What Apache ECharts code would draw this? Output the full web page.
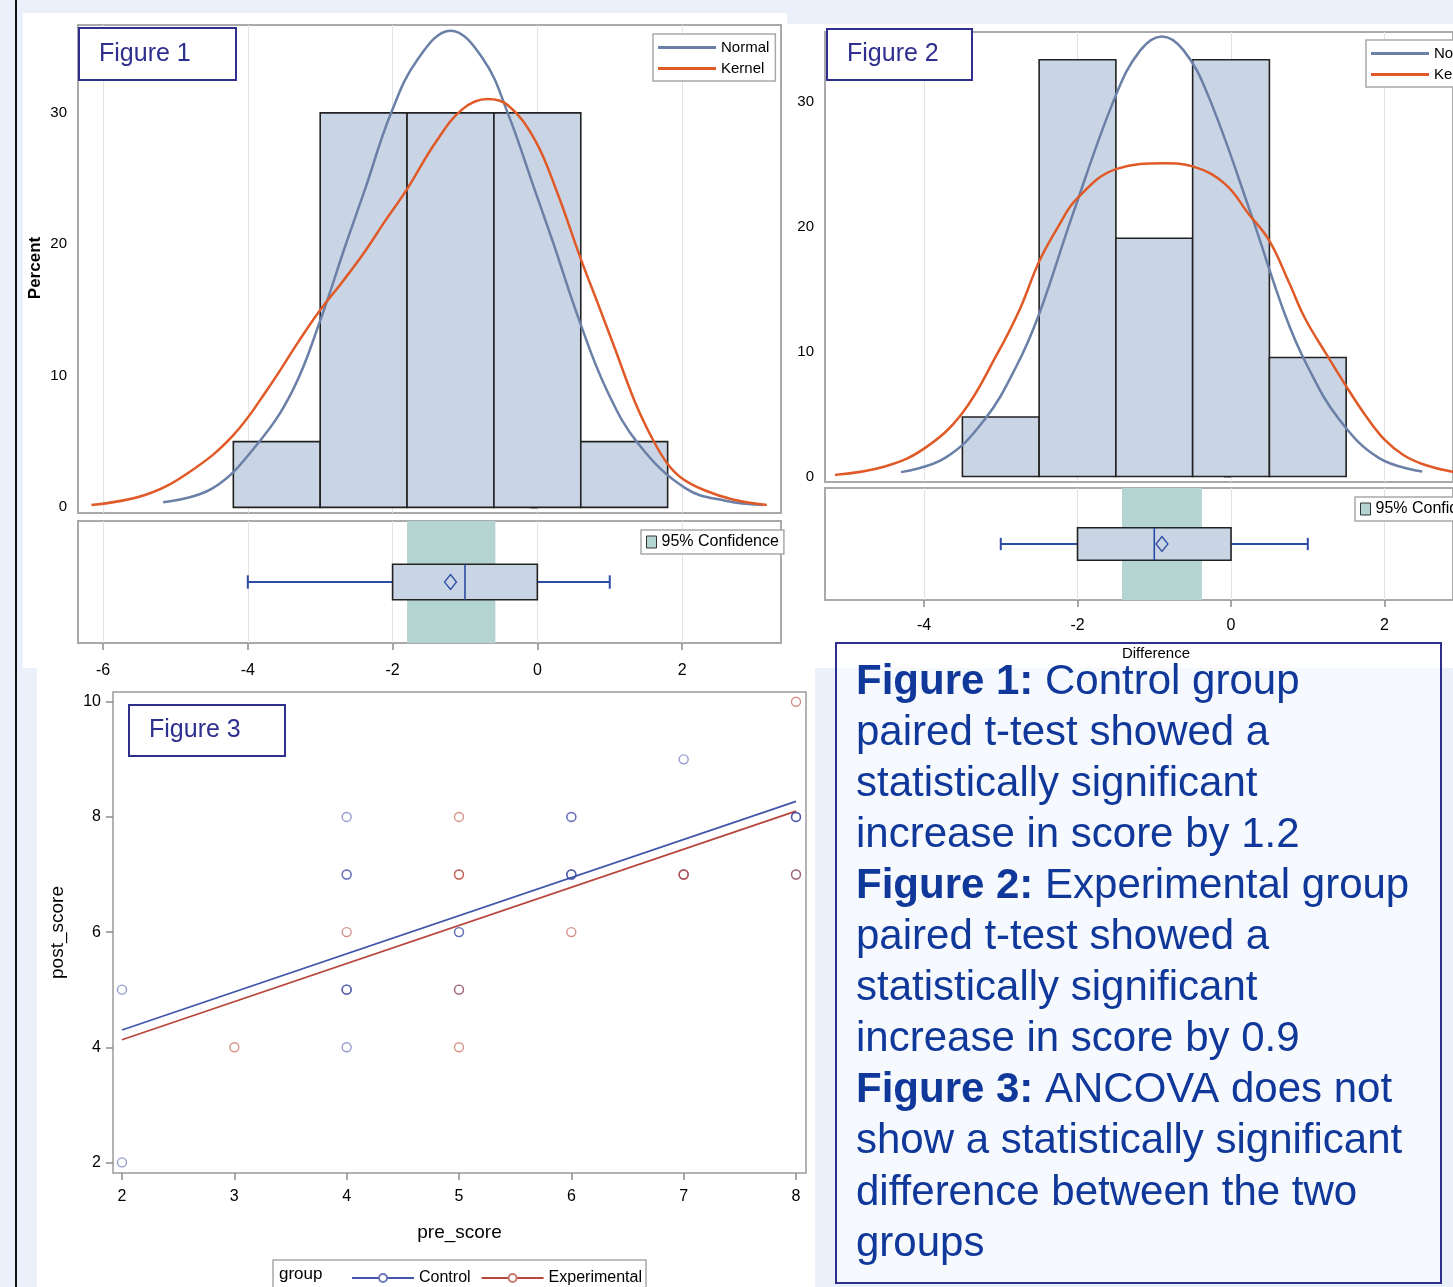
<!DOCTYPE html>
<html>
<head>
<meta charset="utf-8">
<script src="https://cdn.jsdelivr.net/npm/echarts@6/dist/echarts.min.js"></script>
<style>
  html, body { margin: 0; padding: 0; background: #eaf1fa; }
  #chart { width: 1453px; height: 1287px; }
</style>
</head>
<body>
<div id="chart"></div>
<script>
// ---- Figure 1: control group, paired differences ----
const fig1BinEdges = [-4.2, -3.0, -1.8, -0.6, 0.6, 1.8]
const fig1Percent = [5, 30, 30, 30, 5]
const fig1Normal = [[-5.17, 0.38], [-4.49, 1.44], [-3.87, 4.8], [-3.38, 8.9], [-3.0, 14.2], [-2.64, 20.1], [-2.38, 24.2], [-2.02, 30.0], [-1.65, 34.1], [-1.2, 36.25], [-0.75, 34.1], [-0.41, 30.0], [-0.04, 24.2], [0.22, 20.1], [0.58, 14.2], [0.96, 8.9], [1.4, 4.8], [2.05, 1.44], [2.6, 0.5], [3.11, 0.18]]
const fig1Kernel = [[-6.16, 0.18], [-5.42, 0.94], [-4.8, 2.71], [-4.2, 5.49], [-3.69, 9.29], [-3.3, 12.6], [-3.0, 15.0], [-2.7, 17.1], [-2.39, 19.4], [-2.1, 21.8], [-1.8, 24.2], [-1.4, 27.8], [-1.03, 30.3], [-0.69, 31.06], [-0.41, 30.6], [-0.04, 28.0], [0.27, 24.0], [0.6, 18.9], [0.85, 15.3], [1.07, 12.1], [1.35, 8.0], [1.6, 5.1], [1.8, 3.3], [2.0, 2.2], [2.31, 1.3], [2.7, 0.6], [3.17, 0.18]]
const fig1Box = [-4, -2, -1, 0, 1, -1.2] // min, q1, median, q3, max, mean
const fig1CI = [-1.8, -0.58]
const fig1Ticks = [-6, -4, -2, 0, 2]

// ---- Figure 2: experimental group ----
const fig2BinEdges = [-3.5, -2.5, -1.5, -0.5, 0.5, 1.5]
const fig2Percent = [4.76, 33.33, 19.05, 33.33, 9.52]
const fig2Normal = [[-4.3, 0.35], [-3.73, 1.47], [-3.21, 4.55], [-2.79, 8.9], [-2.5, 13.0], [-2.06, 21.0], [-1.5, 30.5], [-1.18, 34.1], [-0.9, 35.2], [-0.62, 34.1], [-0.3, 30.5], [0.26, 21.0], [0.7, 13.0], [0.99, 8.9], [1.41, 4.55], [1.93, 1.47], [2.49, 0.4]]
const fig2Kernel = [[-5.16, 0.13], [-4.51, 0.8], [-3.99, 2.27], [-3.5, 5.08], [-3.05, 9.76], [-2.75, 13.4], [-2.5, 17.2], [-2.25, 20.0], [-2.01, 22.2], [-1.49, 24.6], [-0.86, 25.05], [-0.5, 24.8], [-0.08, 23.4], [0.23, 21.0], [0.5, 18.85], [0.75, 15.6], [0.96, 12.7], [1.25, 9.7], [1.5, 7.22], [1.75, 4.9], [2.0, 2.94], [2.25, 1.7], [2.52, 0.94], [2.87, 0.4], [3.3, 0.14]]
const fig2Box = [-3, -2, -1, 0, 1, -0.9]
const fig2CI = [-1.42, -0.38]
const fig2Ticks = [-4, -2, 0, 2]
const pctTicks = [0, 10, 20, 30]

// ---- Figure 3: ANCOVA scatter ----
const controlPts = [[2, 5], [2, 2], [4, 8], [4, 7], [4, 7], [4, 5], [4, 5], [4, 5], [4, 4], [5, 6], [5, 6], [5, 5], [6, 8], [6, 8], [6, 7], [6, 7], [6, 7], [7, 9], [7, 7], [8, 8], [8, 8], [8, 8], [8, 7]]
const expPts = [[3, 4], [4, 6], [5, 8], [5, 7], [5, 7], [5, 5], [5, 4], [6, 6], [7, 7], [7, 7], [8, 10], [8, 7]]
const controlFit = [[2, 4.30], [8, 8.27]]
const expFit = [[2, 4.13], [8, 8.10]]
const preTicks = [2, 3, 4, 5, 6, 7, 8]
const postTicks = [2, 4, 6, 8, 10]

const textLines = [
  '{b|Figure 1:} Control group',
  'paired t-test showed a',
  'statistically significant',
  'increase in score by 1.2',
  '{b|Figure 2:} Experimental group',
  'paired t-test showed a',
  'statistically significant',
  'increase in score by 0.9',
  '{b|Figure 3:} ANCOVA does not',
  'show a statistically significant',
  'difference between the two',
  'groups',
]

const SANS = '\'Liberation Sans\', Arial, sans-serif'
const BAR_FILL = '#c9d5e5'
const NORMAL_C = '#6b80a7'
const KERNEL_C = '#e05a28'
const WHISKER = '#2c4ca3'
const CI_FILL = '#b3d4d1'
const FRAME = '#a9a9a9'
const NAVY = '#2e2f8e'
const TXT = '#10389a'

const chart = echarts.init(document.getElementById('chart'))

function histItem(params, api) {
  const a = api.coord([api.value(0), 0])
  const b = api.coord([api.value(1), api.value(2)])
  return {
    type: 'rect',
    shape: { x: a[0], y: b[1], width: b[0] - a[0], height: a[1] - b[1] },
    style: { fill: BAR_FILL, stroke: '#222', lineWidth: 1.6 },
  }
}

function bandItem(params, api) {
  const a = api.coord([api.value(0), 1])
  const b = api.coord([api.value(1), 0])
  return {
    type: 'rect',
    shape: { x: a[0], y: a[1], width: b[0] - a[0], height: b[1] - a[1] },
    style: { fill: CI_FILL },
  }
}

function boxItem(params, api) {
  const p = [0, 1, 2, 3, 4, 5].map(i => api.coord([api.value(i), 0.5]))
  const half = api.size([0, 0.29])[1] / 2
  const cap = api.size([0, 0.11])[1] / 2
  const cy = p[0][1]
  const ln = (x1, y1, x2, y2, w) => ({ type: 'line', shape: { x1, y1, x2, y2 }, style: { stroke: WHISKER, lineWidth: w } })
  return {
    type: 'group',
    children: [
      ln(p[0][0], cy, p[1][0], cy, 2),
      ln(p[3][0], cy, p[4][0], cy, 2),
      ln(p[0][0], cy - cap, p[0][0], cy + cap, 2),
      ln(p[4][0], cy - cap, p[4][0], cy + cap, 2),
      { type: 'rect', shape: { x: p[1][0], y: cy - half, width: p[3][0] - p[1][0], height: 2 * half }, style: { fill: BAR_FILL, stroke: '#222', lineWidth: 1.6 } },
      ln(p[2][0], cy - half, p[2][0], cy + half, 1.6),
      { type: 'polygon', shape: { points: [[p[5][0], cy - 7.5], [p[5][0] + 6, cy], [p[5][0], cy + 7.5], [p[5][0] - 6, cy]] }, style: { fill: 'none', stroke: WHISKER, lineWidth: 1.3 } },
    ],
  }
}

function bins(edges, vals) {
  return vals.map((v, i) => [edges[i], edges[i + 1], v])
}

const tickStyle = { lineStyle: { color: '#8c8c8c', width: 1.5 }, length: 7 }
const gridLine = { show: true, lineStyle: { color: '#e3e3e3', width: 1 } }

function histX(idx, min, max, ticks) {
  return { gridIndex: idx, type: 'value', min, max, axisLine: { show: false }, axisTick: { show: false, customValues: ticks }, axisLabel: { show: false, customValues: ticks }, splitLine: { ...gridLine, customValues: ticks } }
}
function boxX(idx, min, max, ticks, margin, name, namePad) {
  return {
    gridIndex: idx, type: 'value', min, max,
    axisLine: { show: false },
    axisTick: { ...tickStyle, customValues: ticks },
    axisLabel: { customValues: ticks, margin, color: '#000', fontFamily: SANS, fontSize: 16 },
    splitLine: { ...gridLine, customValues: ticks },
    name, nameLocation: 'middle', nameGap: 46,
    nameTextStyle: { color: '#000', fontFamily: SANS, fontSize: 15, padding: [0, 0, 0, namePad] },
  }
}
function pctY(idx, min, max) {
  return {
    gridIndex: idx, type: 'value', min, max,
    axisLine: { show: false },
    axisTick: { ...tickStyle, customValues: pctTicks },
    axisLabel: { customValues: pctTicks, margin: 11, color: '#000', fontFamily: SANS, fontSize: 15 },
    splitLine: { show: false },
  }
}

const frame = { show: true, borderColor: FRAME, borderWidth: 2, backgroundColor: 'transparent' }

const legendText = { color: '#000', fontFamily: SANS, fontSize: 15 }
const curveLegend = (left, top) => ({
  data: ['Normal', 'Kernel'], orient: 'vertical', left, top, itemGap: 6, icon: 'rect', itemWidth: 58, itemHeight: 3,
  padding: [6, 6, 5, 5], borderColor: FRAME, borderWidth: 1.5, backgroundColor: '#fff', selectedMode: false, textStyle: legendText,
})
const ciLegend = (left, top) => ({
  data: ['95% Confidence'], left, top, icon: 'rect', itemWidth: 10, itemHeight: 12,
  itemStyle: { borderColor: '#333', borderWidth: 1 },
  padding: [4, 5, 4, 5], borderColor: FRAME, borderWidth: 1.5, backgroundColor: '#fff', selectedMode: false,
  textStyle: { ...legendText, fontSize: 16 },
})

function figLabel(x, y, w, h, text) {
  return [
    { type: 'rect', z: 50, shape: { x, y, width: w, height: h }, style: { fill: '#fff', stroke: NAVY, lineWidth: 2 } },
    { type: 'text', z: 51, x: x + 20, y: y + h / 2, style: { text, fill: NAVY, font: '25px ' + SANS, verticalAlign: 'middle' } },
  ]
}

const graphics = [
  { type: 'rect', z: -10, shape: { x: 15, y: 0, width: 2, height: 1287 }, style: { fill: '#111' } },
  { type: 'rect', z: -10, shape: { x: 23, y: 13, width: 764, height: 655 }, style: { fill: '#fff' } },
  { type: 'rect', z: -10, shape: { x: 37, y: 668, width: 778, height: 619 }, style: { fill: '#fff' } },
  { type: 'rect', z: -9, shape: { x: 836, y: 643, width: 605, height: 640 }, style: { fill: '#f6f9fe' } },
  { type: 'rect', z: -8, shape: { x: 787, y: 24, width: 666, height: 644 }, style: { fill: '#fff' } },
  { type: 'rect', z: 40, shape: { x: 836, y: 643, width: 605, height: 640 }, style: { fill: 'none', stroke: NAVY, lineWidth: 2 } },
  { type: 'text', z: 10, x: 35, y: 268, rotation: Math.PI / 2, style: { text: 'Percent', fill: '#000', font: 'bold 17px ' + SANS, align: 'center', verticalAlign: 'middle' } },
  { type: 'rect', z: -5, shape: { x: 273, y: 1260, width: 373, height: 34 }, style: { fill: '#fff', stroke: FRAME, lineWidth: 1.5 } },
  { type: 'text', z: -4, x: 279, y: 1274, style: { text: 'group', fill: '#000', font: '17px ' + SANS, verticalAlign: 'middle' } },
  ...figLabel(79, 28, 157, 52, 'Figure 1'),
  ...figLabel(827, 29, 145, 51, 'Figure 2'),
  ...figLabel(129, 705, 156, 51, 'Figure 3'),
  ...textLines.map((t, i) => ({
    type: 'text', z: 45, x: 856, y: 682 + i * 51.1,
    style: {
      text: t, fill: TXT, font: '42px ' + SANS, verticalAlign: 'middle',
      rich: { b: { fontWeight: 'bold', fontSize: 42, fontFamily: SANS, fill: TXT } },
    },
  })),
]

const option = {
  backgroundColor: '#eaf1fa',
  animation: false,
  graphic: graphics,
  grid: [
    { left: 78, top: 25, width: 703, height: 488, ...frame },
    { left: 78, top: 521, width: 703, height: 122, ...frame },
    { left: 825, top: 32, width: 630, height: 450, ...frame },
    { left: 825, top: 488, width: 630, height: 112, ...frame },
    { left: 113, top: 692, width: 693, height: 481, show: true, borderColor: '#9a9a9a', borderWidth: 1.5 },
  ],
  xAxis: [
    histX(0, -6.346, 3.366, fig1Ticks),
    boxX(1, -6.346, 3.366, fig1Ticks, 20, '', 0),
    histX(2, -5.29, 2.892, fig2Ticks),
    boxX(3, -5.29, 2.892, fig2Ticks, 18, 'Difference', 34),
    {
      gridIndex: 4, type: 'value', min: 1.92, max: 8.089,
      axisLine: { show: false },
      axisTick: { ...tickStyle, customValues: preTicks },
      axisLabel: { customValues: preTicks, margin: 16, color: '#000', fontFamily: SANS, fontSize: 16 },
      splitLine: { show: false },
      name: 'pre_score', nameLocation: 'middle', nameGap: 50, nameTextStyle: { color: '#000', fontFamily: SANS, fontSize: 19 },
    },
  ],
  yAxis: [
    pctY(0, -0.43, 36.68),
    { gridIndex: 1, type: 'value', min: 0, max: 1, show: false },
    pctY(2, -0.44, 35.55),
    { gridIndex: 3, type: 'value', min: 0, max: 1, show: false },
    {
      gridIndex: 4, type: 'value', min: 1.816, max: 10.17,
      axisLine: { show: false },
      axisTick: { ...tickStyle, customValues: postTicks },
      axisLabel: { customValues: postTicks, margin: 12, color: '#000', fontFamily: SANS, fontSize: 16 },
      splitLine: { show: false },
      name: 'post_score', nameLocation: 'middle', nameGap: 46, nameTextStyle: { color: '#000', fontFamily: SANS, fontSize: 19 },
    },
  ],
  legend: [
    curveLegend(653, 34),
    ciLegend(641, 530),
    curveLegend(1366, 40),
    ciLegend(1355, 497),
    {
      data: ['Control', 'Experimental'], left: 346, top: 1265, itemWidth: 62, itemHeight: 10, itemGap: 10,
      selectedMode: false, textStyle: { color: '#000', fontFamily: SANS, fontSize: 16 },
    },
  ],
  series: [
    // fig 1
    { type: 'custom', xAxisIndex: 0, yAxisIndex: 0, z: 2, renderItem: histItem, encode: { x: [0, 1], y: 2 }, data: bins(fig1BinEdges, fig1Percent) },
    { type: 'line', name: 'Normal', xAxisIndex: 0, yAxisIndex: 0, z: 3, smooth: 0.4, symbol: 'none', lineStyle: { color: NORMAL_C, width: 2.5 }, itemStyle: { color: NORMAL_C }, data: fig1Normal },
    { type: 'line', name: 'Kernel', xAxisIndex: 0, yAxisIndex: 0, z: 3, smooth: 0.4, symbol: 'none', lineStyle: { color: KERNEL_C, width: 2.5 }, itemStyle: { color: KERNEL_C }, data: fig1Kernel },
    { type: 'custom', name: '95% Confidence', xAxisIndex: 1, yAxisIndex: 1, z: 1, renderItem: bandItem, itemStyle: { color: CI_FILL }, data: [fig1CI] },
    { type: 'custom', xAxisIndex: 1, yAxisIndex: 1, z: 3, renderItem: boxItem, data: [fig1Box] },
    // fig 2
    { type: 'custom', xAxisIndex: 2, yAxisIndex: 2, z: 2, renderItem: histItem, encode: { x: [0, 1], y: 2 }, data: bins(fig2BinEdges, fig2Percent) },
    { type: 'line', name: 'Normal', xAxisIndex: 2, yAxisIndex: 2, z: 3, smooth: 0.4, symbol: 'none', lineStyle: { color: NORMAL_C, width: 2.5 }, itemStyle: { color: NORMAL_C }, data: fig2Normal },
    { type: 'line', name: 'Kernel', xAxisIndex: 2, yAxisIndex: 2, z: 3, smooth: 0.4, symbol: 'none', lineStyle: { color: KERNEL_C, width: 2.5 }, itemStyle: { color: KERNEL_C }, data: fig2Kernel },
    { type: 'custom', name: '95% Confidence', xAxisIndex: 3, yAxisIndex: 3, z: 1, renderItem: bandItem, itemStyle: { color: CI_FILL }, data: [fig2CI] },
    { type: 'custom', xAxisIndex: 3, yAxisIndex: 3, z: 3, renderItem: boxItem, data: [fig2Box] },
    // fig 3
    { type: 'line', name: 'Control', xAxisIndex: 4, yAxisIndex: 4, z: 3, showSymbol: false, symbol: 'emptyCircle', symbolSize: 8, lineStyle: { color: '#4155aa', width: 1.8 }, itemStyle: { color: '#6d78bd' }, data: controlFit },
    { type: 'line', name: 'Experimental', xAxisIndex: 4, yAxisIndex: 4, z: 3, showSymbol: false, symbol: 'emptyCircle', symbolSize: 8, lineStyle: { color: '#b8453b', width: 1.8 }, itemStyle: { color: '#c9776f' }, data: expFit },
    { type: 'scatter', name: 'Control', xAxisIndex: 4, yAxisIndex: 4, z: 4, symbol: 'circle', symbolSize: 9, itemStyle: { color: 'rgba(0,0,0,0)', borderColor: '#3e4aa6', borderWidth: 1.4, opacity: 0.55 }, data: controlPts },
    { type: 'scatter', name: 'Experimental', xAxisIndex: 4, yAxisIndex: 4, z: 4, symbol: 'circle', symbolSize: 9, itemStyle: { color: 'rgba(0,0,0,0)', borderColor: '#b3392e', borderWidth: 1.4, opacity: 0.55 }, data: expPts },
  ],
}

chart.setOption(option)
</script>
</body>
</html>
